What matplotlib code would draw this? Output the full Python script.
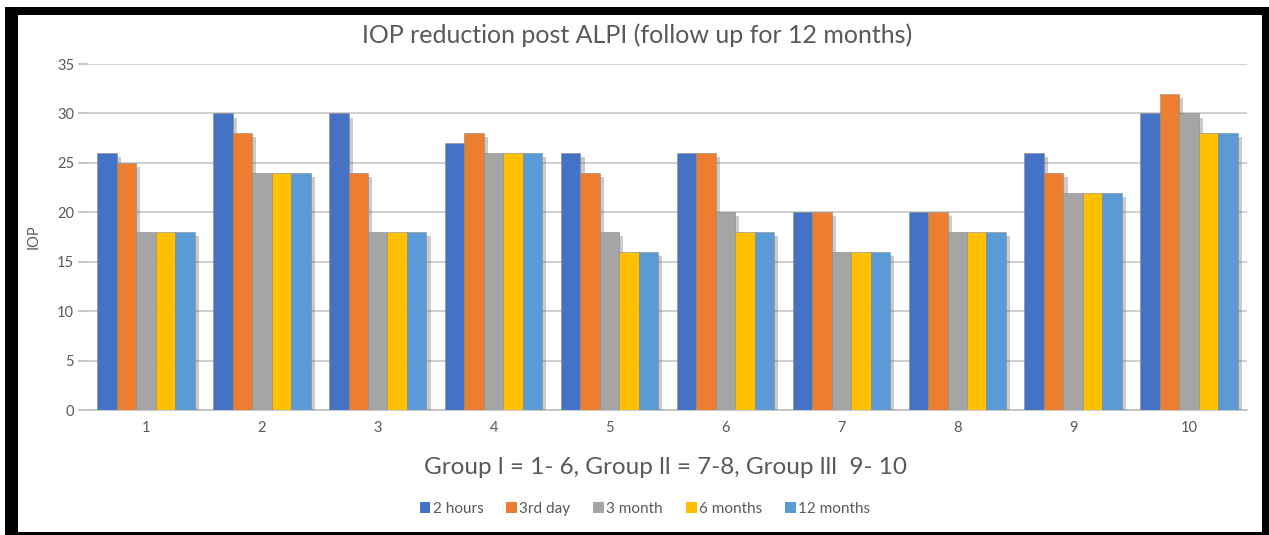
import numpy as np
import matplotlib
matplotlib.use('Agg')
import matplotlib.pyplot as plt
import matplotlib.patheffects as pe
from matplotlib.patches import Rectangle

plt.rcParams['font.family'] = ['Lato', 'DejaVu Sans']

categories = ['1', '2', '3', '4', '5', '6', '7', '8', '9', '10']
series_names = ['2 hours', '3rd day', '3 month', '6 months', '12 months']
hours2 = [26, 30, 30, 27, 26, 26, 20, 20, 26, 30]
day3 = [25, 28, 24, 28, 24, 26, 20, 20, 24, 32]
month3 = [18, 24, 18, 26, 18, 20, 16, 18, 22, 30]
months6 = [18, 24, 18, 26, 16, 18, 16, 18, 22, 28]
months12 = [18, 24, 18, 26, 16, 18, 16, 18, 22, 28]
colors = ['#4472C4', '#ED7D31', '#A5A5A5', '#FFC000', '#5B9BD5']

W, H = 1269, 535
fig = plt.figure(figsize=(W / 100, H / 100), dpi=100)

# black frame with white inner panel
fig.patches.append(Rectangle((5 / W, 0), 1 - 5 / W, 1 - 7 / H, transform=fig.transFigure,
                             facecolor='black', edgecolor='none', zorder=-3))
fig.patches.append(Rectangle((18 / W, 3 / H), (1262 - 18) / W, (532 - 15) / H,
                             transform=fig.transFigure, facecolor='white', edgecolor='none',
                             zorder=-2))

ax = fig.add_axes([88 / W, 1 - 410 / H, (1247 - 88) / W, (410 - 64) / H])
ax.set_facecolor('none')

data = [hours2, day3, month3, months6, months12]
x = np.arange(len(categories))
n = len(data)
bw = 0.84 / n
shadow = [pe.SimplePatchShadow(offset=(3, -3), shadow_rgbFace='#555555', alpha=0.3), pe.Normal()]
for i, (vals, name, c) in enumerate(zip(data, series_names, colors)):
    bars = ax.bar(x + (i - (n - 1) / 2) * bw, vals, bw, color=c, label=name,
                  edgecolor='#8a8a8a', linewidth=0.4, zorder=3)
    for b in bars:
        b.set_path_effects(shadow)

ax.set_xlim(-0.5, len(categories) - 0.5)
ax.set_ylim(0, 35)
ax.set_yticks(range(0, 36, 5))
ax.set_xticks(x)
ax.set_xticklabels(categories)
ax.yaxis.grid(True, color='#c8c8c8', linewidth=1.2, zorder=0)
ax.set_axisbelow(True)
for s in ['left', 'right', 'top']:
    ax.spines[s].set_visible(False)
ax.spines['bottom'].set_color('#bfbfbf')
ax.spines['bottom'].set_linewidth(1.2)
ax.tick_params(axis='y', colors='#595959', labelsize=10.5, length=7, width=1.2, color='#bfbfbf', pad=3)
ax.tick_params(axis='x', colors='#595959', labelsize=10.5, length=0, pad=8)

fig.text(637 / W, 1 - 35 / H, 'IOP reduction post ALPI (follow up for 12 months)',
         fontsize=18, color='#595959', ha='center', va='center')
ax.set_ylabel('IOP', fontsize=10.5, color='#595959', labelpad=12)
fig.text(666 / W, 1 - 468 / H, 'Group l = 1- 6, Group ll = 7-8, Group lll  9- 10',
         fontsize=17.5, color='#595959', ha='center', va='center')

leg = fig.legend(loc='center', bbox_to_anchor=(645 / W, 1 - 509 / H), ncol=5, frameon=False,
                 fontsize=11, handlelength=0.7, handleheight=0.7, handletextpad=0.15,
                 columnspacing=1.5, labelcolor='#595959')
for h in leg.legend_handles:
    h.set_path_effects([])
    h.set_edgecolor('none')

fig.savefig('out.png', dpi=100)
